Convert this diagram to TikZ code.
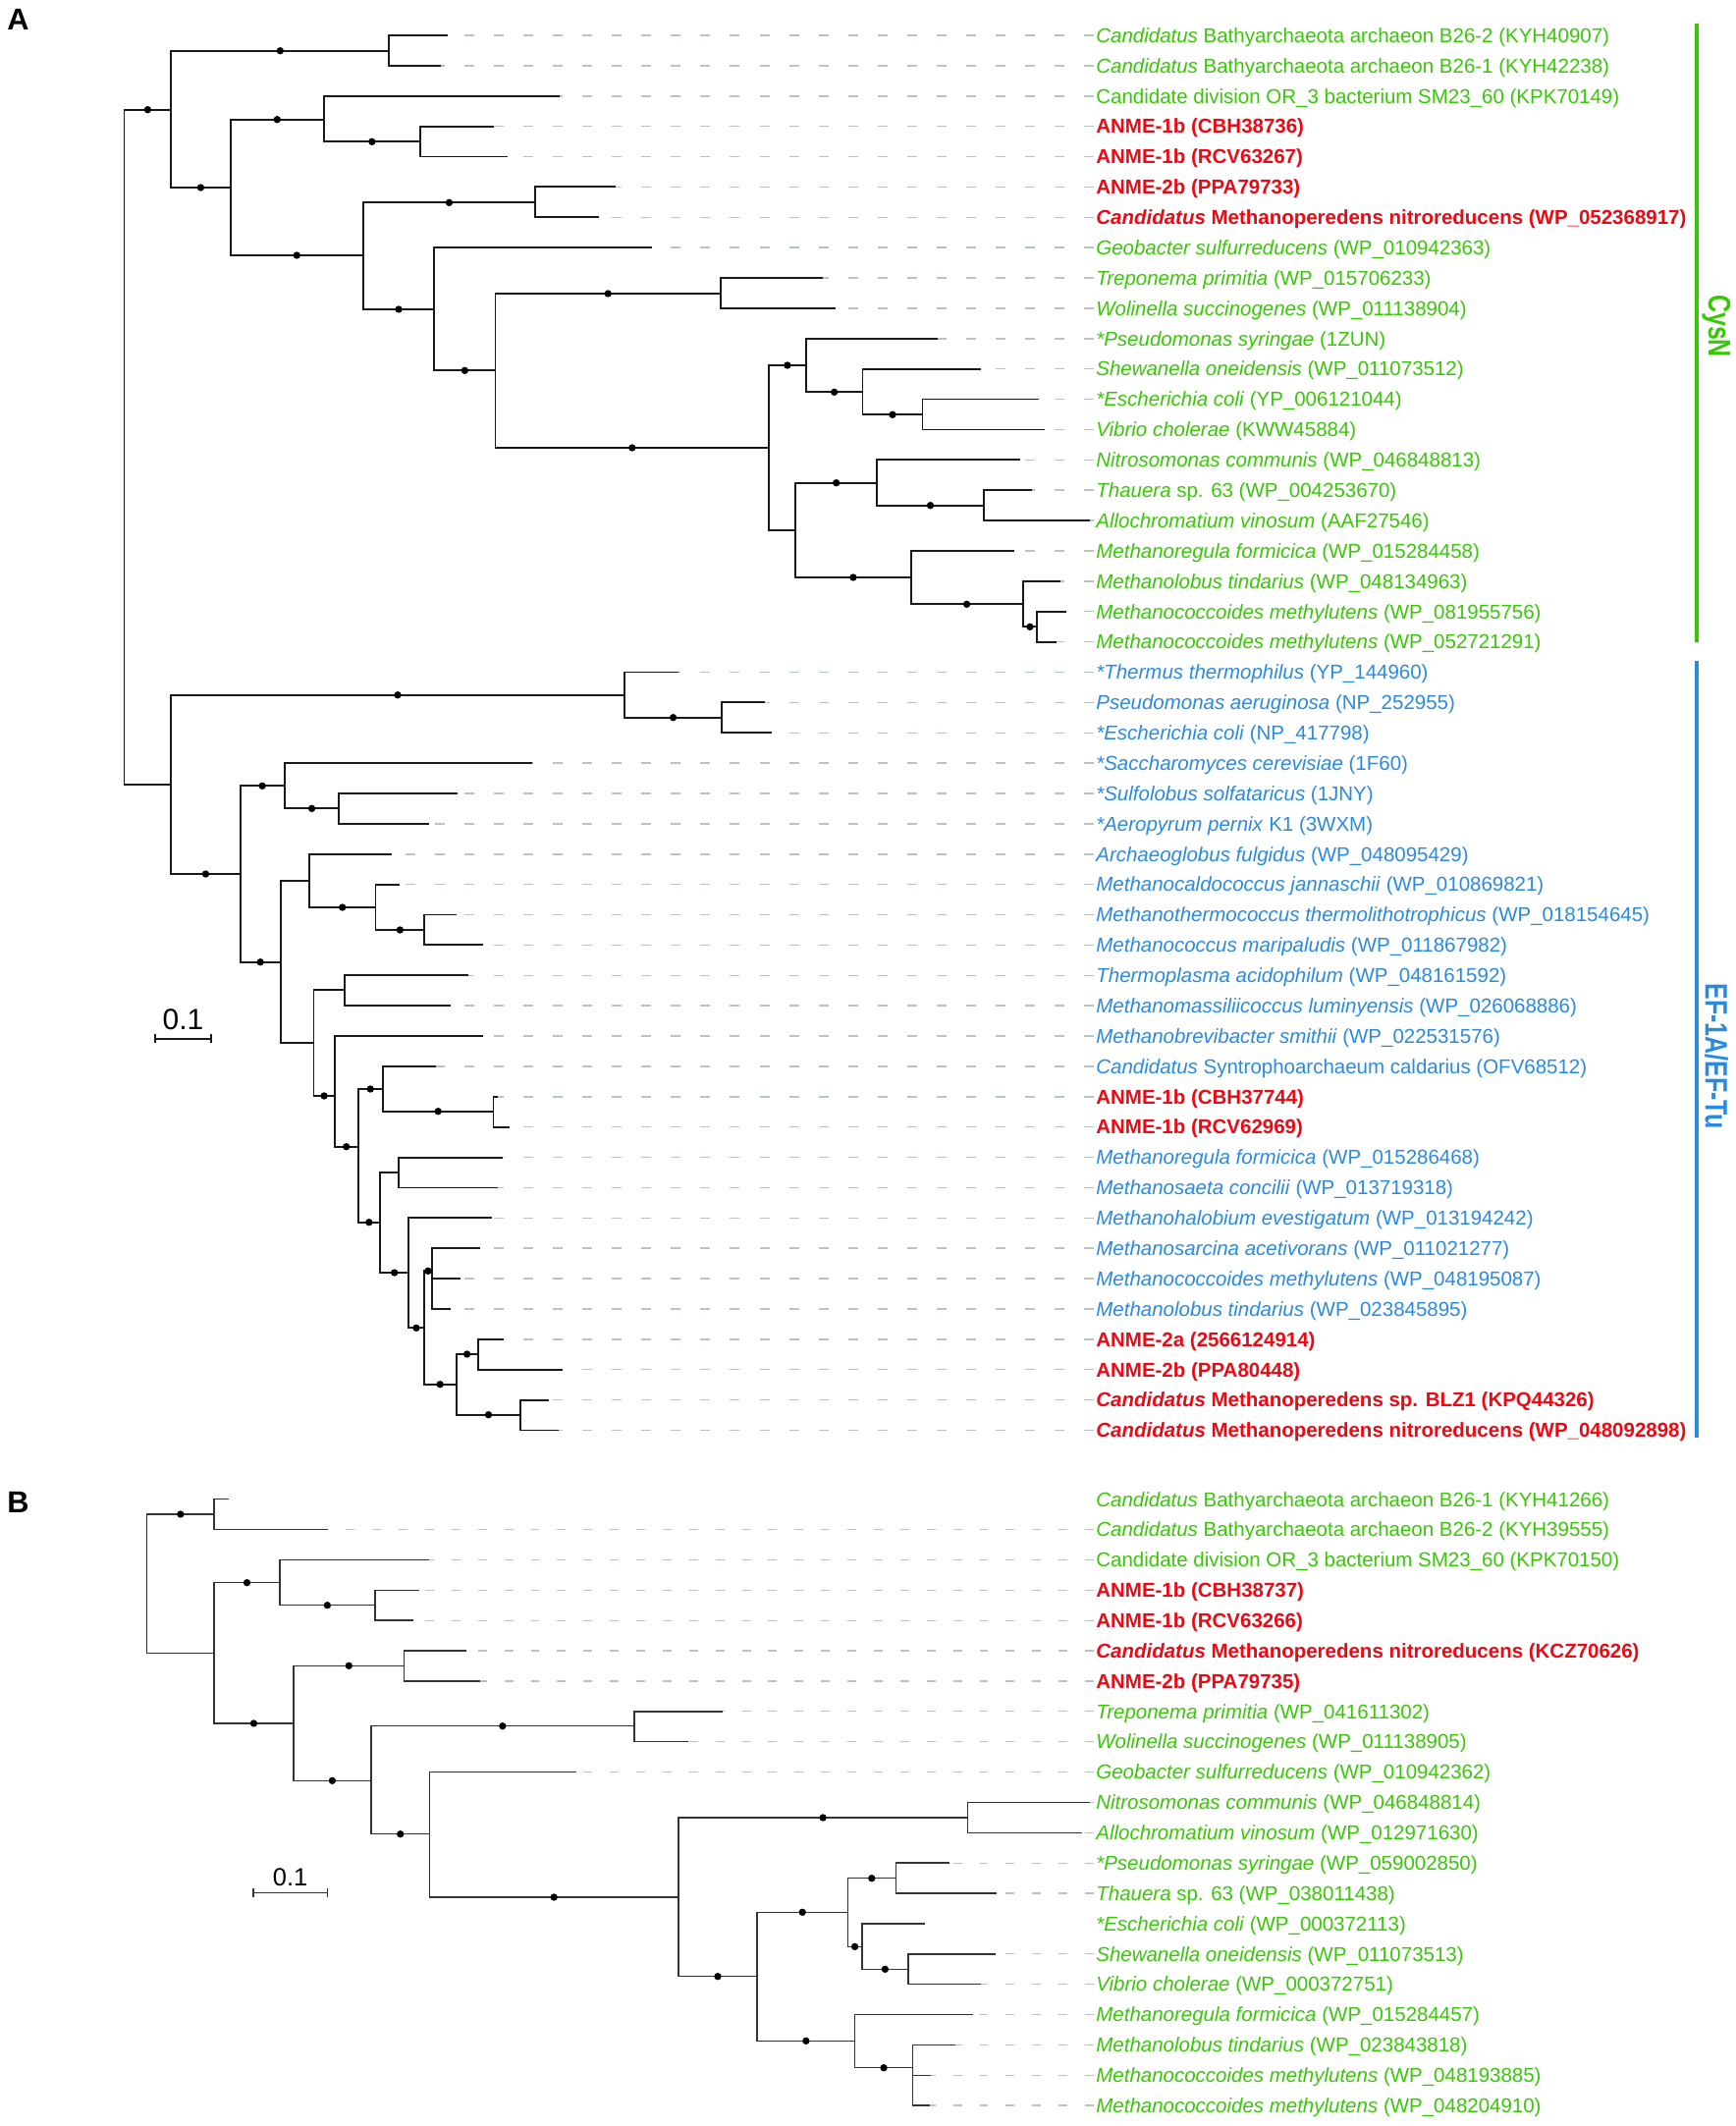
\documentclass[tikz,border=0pt]{standalone}
\usepackage{fontspec}
\setmainfont{Liberation Sans}
\definecolor{cysgreen}{RGB}{55,200,5}
\definecolor{efblue}{RGB}{40,138,225}
\definecolor{anmered}{RGB}{235,10,20}
\definecolor{leadgray}{RGB}{185,195,192}
\begin{document}
\begin{tikzpicture}[x=0.02cm,y=-0.02cm,
    br/.style={black!90,line width=1.05pt,line cap=rect},
    brb/.style={black!80,line width=0.85pt,line cap=rect},
    bs/.style={circle,fill=black,inner sep=0pt,minimum size=4.2pt},
    lead/.style={leadgray,line width=0.85pt,dash pattern=on 5.7pt off 11.4pt},
    leadb/.style={leadgray,line width=0.75pt,dash pattern=on 5.1pt off 10.2pt},
    txg/.style={text=cysgreen,font=\fontsize{11.66}{14}\selectfont,inner sep=0pt},
    txb/.style={text=efblue,font=\fontsize{11.66}{14}\selectfont,inner sep=0pt},
    txr/.style={text=anmered,font=\fontsize{11.66}{14}\selectfont\bfseries,inner sep=0pt}]
    \useasboundingbox (0,0) rectangle (1768,2165);

    % panel A: leaves
    \foreach \x [count=\row] in {454.8,448.1,568.8,502.5,515.8,625.9,609.3,663,836.7,850,
        954,998.5,1056.9,1063.5,1038.3,1049.6,1109.3,1031.7,1079.4,1084.7,1074.8,
        690.2,777.7,785,541,464.7,436.2,398.4,406.4,464,490.6,476,458.1,490.6,
        443.5,505.8,518.4,511.1,505.8,499.9,488,468,458.1,511.8,572.1,557.6,568.2}
        \coordinate (a\row) at (\x,{36+30.88*(\row-1)});

    % panel A: inner nodes
    \coordinate (rootA) at (126.5,455);
    \coordinate (cys) at (174.3,111.7);
    \coordinate (bat) at (396.4,51.7);
    \coordinate (r1) at (234.6,191);
    \coordinate (or) at (330,121.7);
    \coordinate (an1) at (427.6,144.3);
    \coordinate (r2) at (369.9,260);
    \coordinate (mp) at (545,206.3);
    \coordinate (r3) at (442.2,315);
    \coordinate (r4) at (504.5,377.3);
    \coordinate (tw) at (734,299);
    \coordinate (r5) at (783,456);
    \coordinate (p1) at (820.8,372);
    \coordinate (p2) at (878.5,399.3);
    \coordinate (p3) at (939.5,422.3);
    \coordinate (r6) at (810.2,540);
    \coordinate (q1) at (893.1,491.7);
    \coordinate (q2) at (1001.9,514.7);
    \coordinate (m1) at (927.6,588);
    \coordinate (m2) at (1041.6,615.3);
    \coordinate (m3) at (1056.2,638.3);
    \coordinate (ef) at (174.3,798.8);
    \coordinate (th1) at (635.8,707.7);
    \coordinate (th2) at (735.3,730.7);
    \coordinate (e1) at (244.6,890);
    \coordinate (c1) at (289.7,800.3);
    \coordinate (c2) at (345.4,823.3);
    \coordinate (e2) at (285.7,979.7);
    \coordinate (mc1) at (314.9,896.7);
    \coordinate (mc2) at (382.5,924);
    \coordinate (mc3) at (432.2,947);
    \coordinate (e3) at (319.5,1061.7);
    \coordinate (tp) at (350.7,1008.3);
    \coordinate (e4) at (340.7,1116);
    \coordinate (e5) at (364.6,1167.7);
    \coordinate (s1) at (389.8,1109);
    \coordinate (s2) at (502.5,1131.7);
    \coordinate (e6) at (387.1,1244.7);
    \coordinate (f1) at (406.4,1193.7);
    \coordinate (e7) at (416.3,1296);
    \coordinate (e8) at (431.6,1352.3);
    \coordinate (g1) at (440.2,1294.3);
    \coordinate (e9) at (464.7,1409.7);
    \coordinate (h1) at (486.6,1379);
    \coordinate (h2) at (530.4,1440.7);

    % panel A: labels
    \foreach \row/\sty/\txt in {
        1/txg/{\textit{Candidatus} Bathyarchaeota archaeon B26-2 (KYH40907)},
        2/txg/{\textit{Candidatus} Bathyarchaeota archaeon B26-1 (KYH42238)},
        3/txg/{Candidate division OR\_3 bacterium SM23\_60 (KPK70149)},
        4/txr/{ANME-1b (CBH38736)},
        5/txr/{ANME-1b (RCV63267)},
        6/txr/{ANME-2b (PPA79733)},
        7/txr/{\textit{Candidatus} Methanoperedens nitroreducens (WP\_052368917)},
        8/txg/{\textit{Geobacter sulfurreducens} (WP\_010942363)},
        9/txg/{\textit{Treponema primitia} (WP\_015706233)},
        10/txg/{\textit{Wolinella succinogenes} (WP\_011138904)},
        11/txg/{\textit{*Pseudomonas syringae} (1ZUN)},
        12/txg/{\textit{Shewanella oneidensis} (WP\_011073512)},
        13/txg/{\textit{*Escherichia coli} (YP\_006121044)},
        14/txg/{\textit{Vibrio cholerae} (KWW45884)},
        15/txg/{\textit{Nitrosomonas communis} (WP\_046848813)},
        16/txg/{\textit{Thauera} sp. 63 (WP\_004253670)},
        17/txg/{\textit{Allochromatium vinosum} (AAF27546)},
        18/txg/{\textit{Methanoregula formicica} (WP\_015284458)},
        19/txg/{\textit{Methanolobus tindarius} (WP\_048134963)},
        20/txg/{\textit{Methanococcoides methylutens} (WP\_081955756)},
        21/txg/{\textit{Methanococcoides methylutens} (WP\_052721291)},
        22/txb/{\textit{*Thermus thermophilus} (YP\_144960)},
        23/txb/{\textit{Pseudomonas aeruginosa} (NP\_252955)},
        24/txb/{\textit{*Escherichia coli} (NP\_417798)},
        25/txb/{\textit{*Saccharomyces cerevisiae} (1F60)},
        26/txb/{\textit{*Sulfolobus solfataricus} (1JNY)},
        27/txb/{\textit{*Aeropyrum pernix} K1 (3WXM)},
        28/txb/{\textit{Archaeoglobus fulgidus} (WP\_048095429)},
        29/txb/{\textit{Methanocaldococcus jannaschii} (WP\_010869821)},
        30/txb/{\textit{Methanothermococcus thermolithotrophicus} (WP\_018154645)},
        31/txb/{\textit{Methanococcus maripaludis} (WP\_011867982)},
        32/txb/{\textit{Thermoplasma acidophilum} (WP\_048161592)},
        33/txb/{\textit{Methanomassiliicoccus luminyensis} (WP\_026068886)},
        34/txb/{\textit{Methanobrevibacter smithii} (WP\_022531576)},
        35/txb/{\textit{Candidatus} Syntrophoarchaeum caldarius (OFV68512)},
        36/txr/{ANME-1b (CBH37744)},
        37/txr/{ANME-1b (RCV62969)},
        38/txb/{\textit{Methanoregula formicica} (WP\_015286468)},
        39/txb/{\textit{Methanosaeta concilii} (WP\_013719318)},
        40/txb/{\textit{Methanohalobium evestigatum} (WP\_013194242)},
        41/txb/{\textit{Methanosarcina acetivorans} (WP\_011021277)},
        42/txb/{\textit{Methanococcoides methylutens} (WP\_048195087)},
        43/txb/{\textit{Methanolobus tindarius} (WP\_023845895)},
        44/txr/{ANME-2a (2566124914)},
        45/txr/{ANME-2b (PPA80448)},
        46/txr/{\textit{Candidatus} Methanoperedens sp. BLZ1 (KPQ44326)},
        47/txr/{\textit{Candidatus} Methanoperedens nitroreducens (WP\_048092898)}}{
        \coordinate (ta\row) at (1114,{36+30.88*(\row-1)});
        \node[\sty,anchor=base west] (na\row) at (1116,{43.3+30.88*(\row-1)}) {\txt};
    }
    \foreach \row in {1,...,47}
        \draw[lead] (ta\row) -- (a\row);

    % panel A: branches
    \foreach \p/\c in {rootA/ef,r5/r6,e2/mc1,e2/e3,e3/tp,e6/f1,
        bat/a1,bat/a2,or/a3,an1/a4,an1/a5,mp/a6,mp/a7,r3/a8,tw/a9,tw/a10,
        p1/a11,p2/a12,p3/a13,p3/a14,q1/a15,q2/a16,q2/a17,m1/a18,m2/a19,m3/a20,m3/a21,
        th1/a22,th2/a23,th2/a24,c1/a25,c2/a26,c2/a27,mc1/a28,mc2/a29,mc3/a30,mc3/a31,
        tp/a32,tp/a33,e4/a34,s1/a35,s2/a36,s2/a37,f1/a38,f1/a39,e7/a40,
        g1/a41,g1/a42,g1/a43,h1/a44,h1/a45,h2/a46,h2/a47}
        \draw[br] (\p) |- (\c);
    \foreach \p/\c in {rootA/cys,cys/bat,cys/r1,r1/or,or/an1,r1/r2,r2/mp,r2/r3,r3/r4,
        r4/tw,r4/r5,r5/p1,p1/p2,p2/p3,r6/q1,q1/q2,r6/m1,m1/m2,m2/m3,
        ef/th1,th1/th2,ef/e1,e1/c1,c1/c2,e1/e2,mc1/mc2,mc2/mc3,e3/e4,e4/e5,
        e5/s1,s1/s2,e5/e6,e6/e7,e7/e8,e8/g1,e8/e9,e9/h1,e9/h2}
        \draw[br] (\p) |- node[bs,pos=.75] (d\c) {} (\c);

    % panel A: scale bar
    \coordinate (sa1) at (158.4,1057.7);
    \coordinate (sa2) at (214.7,1057.7);
    \draw[br] (sa1) -- (sa2) (sa1) ++(0,-3.5) -- ++(0,7) (sa2) ++(0,-3.5) -- ++(0,7);
    \node[font=\fontsize{17}{20}\selectfont,inner sep=0pt] (scA) at (186.5,1038) {0.1};

    % clade bars
    \draw[cysgreen,line width=2.3pt] (1728,23.6) -- (1728,653.5);
    \draw[efblue,line width=2.3pt] (1728,673) -- (1728,1463.7);
    \node[rotate=-90,text=cysgreen,font=\fontsize{14.2}{16}\selectfont\bfseries,inner sep=0pt]
        (cysN) at (1748,332) {\scalebox{1}[1.28]{CysN}};
    \node[rotate=-90,text=efblue,font=\fontsize{14.2}{16}\selectfont\bfseries,inner sep=0pt]
        (efTu) at (1748,1075.5) {\scalebox{1}[1.28]{EF-1A/EF-Tu}};

    % panel letters
    \node[font=\fontsize{17.5}{20}\selectfont\bfseries,anchor=base west,inner sep=0pt] (pA) at (7,30) {A};
    \node[font=\fontsize{17.5}{20}\selectfont\bfseries,anchor=base west,inner sep=0pt] (pB) at (7,1540) {B};

    % panel B: leaves
    \foreach \x [count=\row] in {232.6,332.8,436.2,426.3,420.3,474.7,488.6,735.3,700.1,586.7,
        1109.3,1101.3,966,1014.5,940.8,1013.1,998.5,990.6,972,947.5,946.2}
        \coordinate (b\row) at (\x,{1526.7+30.87*(\row-1)});

    % panel B: inner nodes
    \coordinate (Broot) at (149.7,1612.6);
    \coordinate (Bbat) at (218,1542);
    \coordinate (Bq1) at (218,1683.3);
    \coordinate (Bor) at (285,1611.7);
    \coordinate (Ban1) at (381.8,1634.7);
    \coordinate (Bq2) at (298.9,1755);
    \coordinate (Bmp) at (411.7,1696.3);
    \coordinate (Bq3) at (377.9,1813.3);
    \coordinate (Btw) at (645.8,1757.7);
    \coordinate (Bq4) at (437.5,1867.7);
    \coordinate (Bq5) at (690.9,1932);
    \coordinate (Bna) at (985.3,1851);
    \coordinate (Bq6) at (771.1,2012.7);
    \coordinate (Bp1) at (863.3,1947.3);
    \coordinate (Bpt) at (912.3,1912.7);
    \coordinate (Bp2) at (877.9,1982.3);
    \coordinate (Bsv) at (924.9,2005.3);
    \coordinate (Bm1) at (870.6,2078.3);
    \coordinate (Bm2) at (929.6,2105.7);

    % panel B: labels
    \foreach \row/\sty/\txt in {
        1/txg/{\textit{Candidatus} Bathyarchaeota archaeon B26-1 (KYH41266)},
        2/txg/{\textit{Candidatus} Bathyarchaeota archaeon B26-2 (KYH39555)},
        3/txg/{Candidate division OR\_3 bacterium SM23\_60 (KPK70150)},
        4/txr/{ANME-1b (CBH38737)},
        5/txr/{ANME-1b (RCV63266)},
        6/txr/{\textit{Candidatus} Methanoperedens nitroreducens (KCZ70626)},
        7/txr/{ANME-2b (PPA79735)},
        8/txg/{\textit{Treponema primitia} (WP\_041611302)},
        9/txg/{\textit{Wolinella succinogenes} (WP\_011138905)},
        10/txg/{\textit{Geobacter sulfurreducens} (WP\_010942362)},
        11/txg/{\textit{Nitrosomonas communis} (WP\_046848814)},
        12/txg/{\textit{Allochromatium vinosum} (WP\_012971630)},
        13/txg/{\textit{*Pseudomonas syringae} (WP\_059002850)},
        14/txg/{\textit{Thauera} sp. 63 (WP\_038011438)},
        15/txg/{\textit{*Escherichia coli} (WP\_000372113)},
        16/txg/{\textit{Shewanella oneidensis} (WP\_011073513)},
        17/txg/{\textit{Vibrio cholerae} (WP\_000372751)},
        18/txg/{\textit{Methanoregula formicica} (WP\_015284457)},
        19/txg/{\textit{Methanolobus tindarius} (WP\_023843818)},
        20/txg/{\textit{Methanococcoides methylutens} (WP\_048193885)},
        21/txg/{\textit{Methanococcoides methylutens} (WP\_048204910)}}{
        \coordinate (tb\row) at (1114,{1526.7+30.87*(\row-1)});
        \node[\sty,anchor=base west] (nb\row) at (1116,{1534+30.87*(\row-1)}) {\txt};
    }
    \foreach \row in {2,...,14,16,17,...,21}
        \draw[leadb] (tb\row) -- (b\row);

    % panel B: branches
    \foreach \p/\c in {Broot/Bq1,Bbat/b1,Bbat/b2,Bor/b3,Ban1/b4,Ban1/b5,Bmp/b6,Bmp/b7,
        Btw/b8,Btw/b9,Bq4/b10,Bna/b11,Bna/b12,Bpt/b13,Bpt/b14,Bp2/b15,Bsv/b16,Bsv/b17,
        Bm1/b18,Bm2/b19,Bm2/b20,Bm2/b21}
        \draw[brb] (\p) |- (\c);
    \foreach \p/\c in {Broot/Bbat,Bq1/Bor,Bor/Ban1,Bq1/Bq2,Bq2/Bmp,Bq2/Bq3,Bq3/Btw,Bq3/Bq4,
        Bq4/Bq5,Bq5/Bna,Bq5/Bq6,Bq6/Bp1,Bp1/Bpt,Bp1/Bp2,Bp2/Bsv,Bq6/Bm1,Bm1/Bm2}
        \draw[brb] (\p) |- node[bs,pos=.75] (d\c) {} (\c);

    % panel B: scale bar
    \coordinate (sb1) at (257.8,1927.7);
    \coordinate (sb2) at (333.4,1927.7);
    \draw[brb] (sb1) -- (sb2) (sb1) ++(0,-3.5) -- ++(0,7) (sb2) ++(0,-3.5) -- ++(0,7);
    \node[font=\fontsize{14.5}{17}\selectfont,inner sep=0pt] (scB) at (295.6,1911.7) {0.1};
\end{tikzpicture}
\end{document}
